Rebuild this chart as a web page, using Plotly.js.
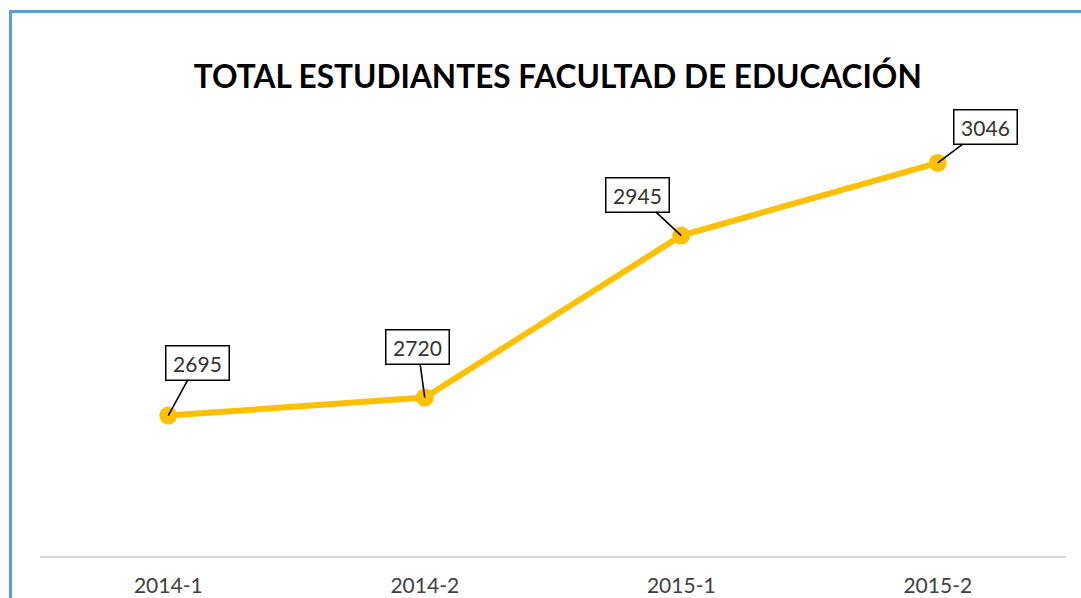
<!DOCTYPE html>
<html><head><meta charset="utf-8">
<script src="https://cdn.plot.ly/plotly-3.0.1.min.js"></script>
<style>
html,body{margin:0;padding:0;background:#fff;overflow:hidden;}
#frame{position:absolute;left:9px;top:10px;width:1200px;height:700px;border-top:3px solid #5B9BD5;border-left:3px solid #5B9BD5;box-sizing:border-box;pointer-events:none;z-index:5;}
#chart{position:absolute;left:0;top:0;width:1081px;height:598px;}
</style></head>
<body>
<div id="chart"></div>
<div id="frame"></div>
<script>
const categories = ["2014-1", "2014-2", "2015-1", "2015-2"];
const totals = [2695, 2720, 2945, 3046];
const labelOffsetsX = [29, -7, -44, 48];
const labelOffsetsY = [-53, -51, -41, -36];

const trace = {
  x: categories, y: totals, type: 'scatter', mode: 'lines+markers',
  line: {color: '#FFC000', width: 6},
  marker: {color: '#FFC000', size: 18},
  hoverinfo: 'x+y'
};
const annotations = categories.map((c, i) => ({
  x: c, y: totals[i], xref: 'x', yref: 'y',
  text: '\u2009' + String(totals[i]) + '\u2009',
  showarrow: true, arrowhead: 0, arrowwidth: 1.6, arrowcolor: '#000',
  ax: labelOffsetsX[i], ay: labelOffsetsY[i],
  bgcolor: '#fff', bordercolor: '#000', borderwidth: 1.5, borderpad: 4,
  font: {family: 'Lato, Carlito, sans-serif', size: 21, color: '#333333'}
}));
const layout = {
  width: 1081, height: 598,
  margin: {l: 40, r: 15, t: 124, b: 42},
  paper_bgcolor: '#fff', plot_bgcolor: '#fff',
  showlegend: false,
  title: {text: '<b>TOTAL ESTUDIANTES FACULTAD DE EDUCACIÓN</b>', x: 0.516, xanchor: 'center', y: 0.872, yanchor: 'middle',
    font: {family: 'Lato, sans-serif', size: 31.6, color: '#000'}},
  xaxis: {type: 'category', range: [-0.5, 3.5], showgrid: false, zeroline: false,
    showline: true, linecolor: '#D9D9D9', linewidth: 2, ticks: '',
    tickfont: {family: 'Lato, sans-serif', size: 21, color: '#404040'}, ticklabelstandoff: 10},
  yaxis: {range: [2500, 3100], visible: false, showgrid: false, zeroline: false},
  annotations: annotations
};
Plotly.newPlot('chart', [trace], layout, {displayModeBar: false, staticPlot: true});
</script>
</body></html>
